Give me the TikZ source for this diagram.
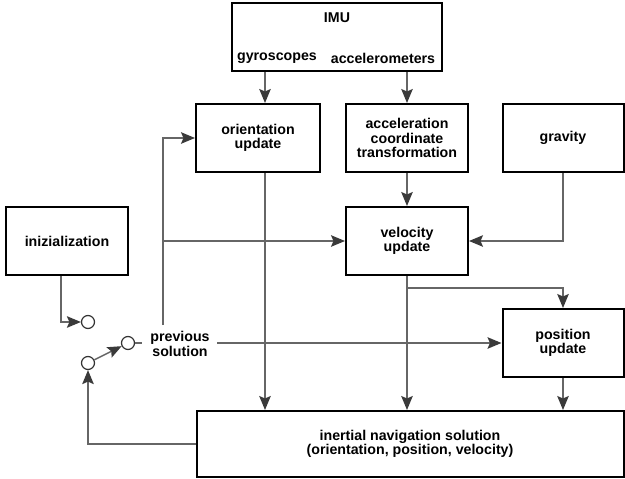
\documentclass[tikz,border=0pt]{standalone}
\usepackage{fontspec}
\setmainfont{Liberation Sans}
\usetikzlibrary{arrows.meta}
\definecolor{linegray}{HTML}{666666}
\definecolor{tipgray}{HTML}{3A3A3A}
\tikzset{
  blk/.style={draw=black, line width=2pt, fill=white, align=center,
    font=\fontsize{14.2}{14.6}\selectfont\bfseries, inner sep=0pt},
  lbl/.style={align=center, font=\fontsize{14.2}{14.6}\selectfont\bfseries, inner sep=0pt},
  conn/.style={draw=linegray, line width=1.4pt},
  arr/.style={conn, -{Stealth[length=14pt,width=11.5pt,inset=2.5pt,fill=tipgray,color=tipgray]}},
  sw/.style={circle, draw=black!80, line width=1.2pt, minimum size=13pt, inner sep=0pt, fill=white}
}
\begin{document}
\begin{tikzpicture}[x=1pt,y=-1pt]
\useasboundingbox (0,0) rectangle (625,479);
% boxes
\node[blk, minimum width=210, minimum height=68] (imu) at (337,37) {};
\node[lbl] (imut) at (337,18) {IMU};
\node[lbl] (gyr) at (277,58) {gyroscopes};
\node[lbl] (accm) at (383,58) {accelerometers};
\node[blk, minimum width=124, minimum height=68] (ori) at (258,138) {orientation\\update};
\node[blk, minimum width=122, minimum height=68] (acc) at (407,138) {acceleration\\coordinate\\transformation};
\node[blk, minimum width=121, minimum height=68] (grav) at (563,138) {gravity};
\node[blk, minimum width=122, minimum height=68] (vel) at (407,241) {velocity\\update};
\node[blk, minimum width=121, minimum height=68] (pos) at (563,343) {position\\update};
\node[blk, minimum width=122, minimum height=68] (ini) at (67,241) {inizialization};
\node[blk, minimum width=427, minimum height=66] (ins) at (410,444) {inertial navigation solution\\(orientation, position, velocity)};
% switch
\node[sw] (c1) at (88,322) {};
\node[sw] (c2) at (88,363) {};
\node[sw] (c3) at (128,343) {};
\node[lbl] (prev) at (180,344) {previous\\solution};
% helper coordinates
\coordinate (xg) at (265,0);
\coordinate (xi) at (61,0);
\coordinate (br) at (408,288);
\coordinate (ps1) at (142,343);
\coordinate (ps2) at (217,343);
\coordinate (fb) at (163,325);
\coordinate (jn) at (163,241);
% connectors
\draw[arr] (imu.south -| xg) -- (ori.north -| xg);
\draw[arr] (imu.south -| acc) -- (acc.north);
\draw[arr] (acc.south) -- (vel.north);
\draw[arr] (grav.south) |- (vel.east);
\draw[arr] (ori.south -| xg) -- (ins.north -| xg);
\draw[arr] (vel.south) -- (ins.north -| vel);
\draw[arr] (br) -| (pos.north);
\draw[arr] (pos.south) -- (ins.north -| pos);
\draw[arr] (ins.west) -| (c2.south);
\draw[arr] (ini.south -| xi) |- (c1.west);
\draw[arr] (c2) -- (c3);
\draw[conn] (c3.east) -- (ps1);
\draw[arr] (ps2) -- (pos.west);
\draw[arr] (fb) |- (ori.west);
\draw[arr] (jn) -- (vel.west);
\end{tikzpicture}
\end{document}
